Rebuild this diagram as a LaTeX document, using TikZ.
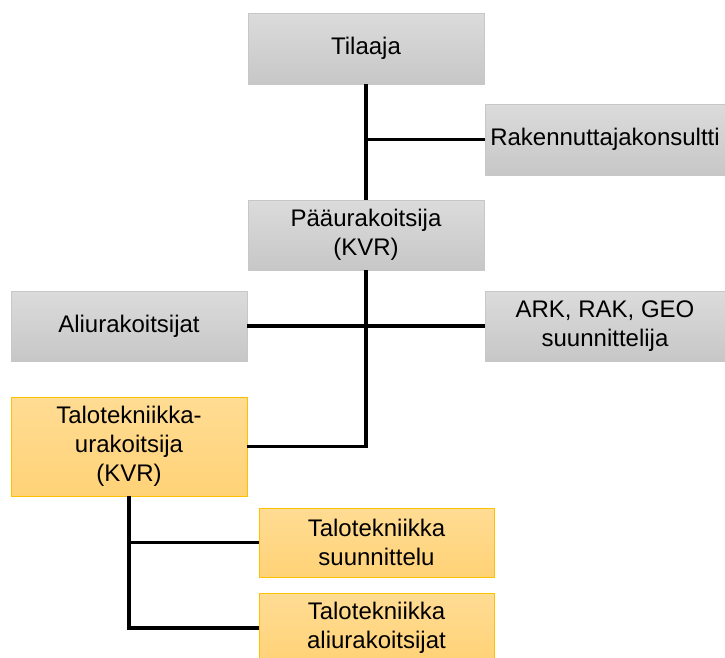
\documentclass[tikz,border=0pt]{standalone}
\usepackage{fontspec}
\setmainfont{Liberation Sans}
\begin{document}
\begin{tikzpicture}[x=1pt,y=-1pt,
  graybox/.style={draw=black!22, line width=0.8pt, top color=black!14, bottom color=black!22,
    inner sep=0pt, align=center, font=\fontsize{24}{29}\selectfont},
  orangebox/.style={draw={rgb,255:red,255;green,192;blue,0}, line width=0.8pt,
    top color={rgb,255:red,255;green,220;blue,148}, bottom color={rgb,255:red,255;green,210;blue,118},
    inner sep=0pt, align=center, font=\fontsize{24}{29}\selectfont},
  conn/.style={line width=3.2pt, black}]
\useasboundingbox (0,0) rectangle (725,657);
\node[graybox, minimum width=236pt, minimum height=71pt] (til) at (366,48.5) {Tilaaja};
\node[graybox, minimum width=240pt, minimum height=71pt] (rak) at (605,139.5) {Rakennuttajakonsultti};
\node[graybox, minimum width=236pt, minimum height=70pt] (paa) at (366,235) {Pääurakoitsija\\(KVR)};
\node[graybox, minimum width=236pt, minimum height=70pt] (ali) at (129,326) {Aliurakoitsijat};
\node[graybox, minimum width=240pt, minimum height=70pt] (ark) at (605,326) {ARK, RAK, GEO\\suunnittelija};
\node[orangebox, minimum width=236pt, minimum height=99pt] (tt) at (129,446.5) {Talotekniikka-\\urakoitsija\\(KVR)};
\node[orangebox, minimum width=235pt, minimum height=69pt] (tts) at (376.5,542.5) {Talotekniikka\\suunnittelu};
\node[orangebox, minimum width=235pt, minimum height=70pt] (tta) at (376.5,628) {Talotekniikka\\aliurakoitsijat};
\coordinate (j1) at (til.south |- rak.west);
\coordinate (j2) at (paa.south |- tt.east);
\coordinate (j3) at (tt.south |- tts.west);
\coordinate (j4) at (tt.south |- tta.west);
\draw[conn] (til.south) -- (paa.north);
\draw[conn] (j1) -- (rak.west);
\draw[conn] (paa.south) -- (j2) -- (tt.east);
\draw[conn] (ali.east) -- (ark.west);
\draw[conn] (tt.south) -- (j4) -- (tta.west);
\draw[conn] (j3) -- (tts.west);
\end{tikzpicture}
\end{document}
